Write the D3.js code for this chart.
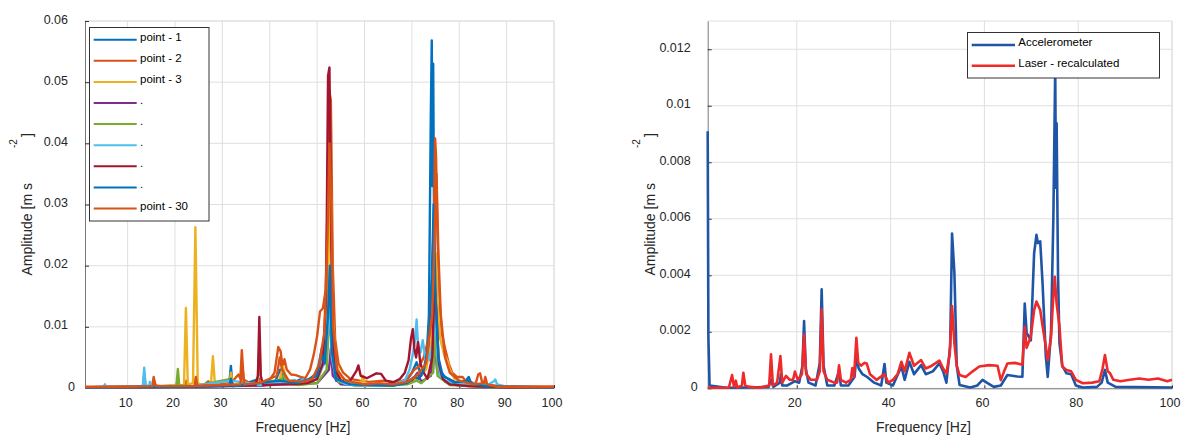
<!DOCTYPE html>
<html>
<head>
<meta charset="utf-8">
<script src="https://cdn.jsdelivr.net/npm/d3@7"></script>
<style>
  html, body { margin: 0; padding: 0; background: #fff; }
  svg { display: block; font-family: "Liberation Sans", Arial, sans-serif; }
  .grid line, .frame { stroke: #dfdfdf; stroke-width: 1; fill: none; }
  .axis { color: #262626; font-size: 12.5px; }
  .axis .domain { stroke: #777; }
  .axis .tick line { stroke: #333; }
  .label { fill: #262626; font-size: 14px; }
  .legend rect { fill: #fff; stroke: #333; stroke-width: 1; }
  .legend text { font-size: 11.5px; fill: #000; }
</style>
</head>
<body>
<svg id="chart" width="1183" height="440"></svg>
<script>
'use strict';

// ---- left panel: 30 measuring points (only the legend-listed ones drawn) ----
const pointLabels = ['point - 1', 'point - 2', 'point - 3', '.', '.', '.', '.', '.', 'point - 30'];

const point1 = [[1,0.0001],[5,0.0002],[13.2,0.0002],[13.5,0.0012],[13.8,0.0002],[20.3,0.0003],[20.6,0.0015],[20.9,0.0003],
  [24.2,0.0003],[24.4,0.001],[24.6,0.0003],[31.4,0.0004],[31.8,0.0036],[32.1,0.0006],[34,0.0005],[37.8,0.0015],[38.1,0.0004],
  [41,0.0008],[42.2,0.003],[43,0.0015],[45,0.0009],[46.5,0.0014],[48,0.0012],[50,0.0025],[51,0.0065],[51.6,0.0045],[52.4,0.009],
  [52.8,0.0105],[53.3,0.004],[54,0.0012],[56,0.0006],[60,0.0004],[63,0.0005],[66,0.0004],[68.5,0.0008],[70,0.0025],[71,0.0042],
  [72,0.002],[73,0.0035],[73.6,0.012],[74.0,0.045],[74.2,0.0568],[74.35,0.033],[74.5,0.053],[74.7,0.025],[75.1,0.008],[75.8,0.003],
  [77,0.0018],[79,0.001],[81,0.0008],[82,0.0018],[82.6,0.0006],[85,0.0004],[88,0.0003],[90,0.0001],[100,0.0001]];

const point2 = [[1,0.0001],[14,0.0002],[15.2,0.0004],[15.5,0.0018],[15.8,0.0004],[18,0.0002],[22.2,0.0003],[22.4,0.0012],[22.6,0.0003],
  [24.1,0.0003],[24.4,0.0015],[24.7,0.0003],[26.3,0.0006],[27,0.0011],[27.5,0.0005],[31.8,0.0008],[33.4,0.0022],[33.8,0.0015],
  [34.1,0.0062],[34.5,0.0014],[36,0.0007],[37.8,0.0012],[39.5,0.0008],[41,0.0025],[41.8,0.0067],[42.3,0.006],[42.7,0.0035],
  [43.1,0.0047],[43.6,0.003],[44.5,0.0022],[45.5,0.0021],[46.5,0.0018],[47.5,0.0016],[48.5,0.003],[49.3,0.0055],[50,0.0085],
  [50.6,0.0125],[51.2,0.013],[51.8,0.016],[52.2,0.03],[52.5,0.049],[52.9,0.047],[53.3,0.02],[53.8,0.008],[54.5,0.004],[55.5,0.0025],
  [57,0.0015],[59,0.0012],[61,0.001],[64,0.0012],[67,0.0009],[69,0.0015],[70.5,0.003],[71.5,0.0035],[72.5,0.005],[73.5,0.008],
  [74.3,0.018],[74.7,0.03],[74.9,0.0408],[75.1,0.038],[75.4,0.025],[75.8,0.015],[76.3,0.009],[77,0.0065],[77.8,0.004],[78.5,0.0025],
  [79.5,0.0018],[80.7,0.0018],[81.5,0.001],[83.5,0.0008],[84,0.0022],[84.4,0.0024],[84.8,0.001],[86,0.0005],[90,0.0002],[100,0.0002]];

const point3 = [[1,0.0001],[13.2,0.0002],[13.5,0.0015],[13.8,0.0002],[20.6,0.0004],[21.9,0.0005],[22.3,0.0131],[22.7,0.0006],
  [23.8,0.0008],[24.3,0.0263],[24.8,0.0008],[26,0.0004],[27.6,0.0008],[28,0.0052],[28.4,0.0008],[30,0.0004],[31.5,0.0006],
  [31.8,0.0025],[32.2,0.0005],[33.5,0.0008],[34.3,0.0015],[35,0.0005],[37.4,0.0008],[37.8,0.0067],[38.2,0.0008],[40,0.0005],
  [42,0.0012],[42.8,0.0035],[43.4,0.0015],[45,0.0008],[47,0.0006],[49,0.0009],[50.5,0.002],[51.8,0.006],[52.4,0.02],[52.7,0.035],
  [53.0,0.03],[53.3,0.012],[54,0.004],[55,0.0018],[57,0.0008],[59.3,0.0009],[59.7,0.002],[60.1,0.0007],[63,0.0005],[66,0.0006],
  [69,0.0008],[71,0.0015],[73,0.003],[74.2,0.008],[74.7,0.02],[75.1,0.022],[75.5,0.013],[76,0.008],[76.8,0.0055],[77.5,0.0045],
  [78,0.003],[79,0.0015],[81,0.0006],[84,0.0005],[86,0.0004],[90,0.0001],[100,0.0001]];

const point4 = [[1,0.0001],[20,0.0002],[31.8,0.0003],[38,0.0004],[43,0.0006],[50,0.0008],[52.5,0.003],[52.9,0.0065],[53.3,0.002],
  [55,0.0006],[60,0.0004],[65,0.0005],[70,0.0012],[71.2,0.0025],[72,0.001],[74,0.002],[74.8,0.008],[75.3,0.003],[77,0.001],
  [80,0.0004],[90,0.0001],[100,0.0001]];

const point5 = [[1,0.0001],[13.2,0.0002],[13.5,0.0022],[13.8,0.0002],[20.3,0.0004],[20.6,0.0031],[20.9,0.0004],[24,0.0003],
  [31.8,0.0015],[32.2,0.0003],[37.8,0.0008],[42.5,0.0014],[43,0.0022],[43.5,0.0008],[46,0.0005],[50,0.0008],[52,0.003],
  [52.6,0.012],[53,0.0155],[53.4,0.004],[54.5,0.001],[58,0.0004],[65,0.0004],[69,0.0006],[71,0.0012],[72,0.0008],[74.5,0.0025],
  [75,0.009],[75.4,0.002],[78,0.0005],[85,0.0002],[100,0.0001]];

const point6 = [[1,0.0001],[4.9,0.0001],[5.2,0.0006],[5.5,0.0001],[13.2,0.0003],[13.5,0.0033],[13.8,0.0004],[14.5,0.0003],
  [14.7,0.001],[15,0.0002],[20,0.0003],[24,0.0003],[31.8,0.0012],[38,0.0005],[42,0.0009],[44,0.0011],[45.3,0.0013],[46,0.0009],
  [47,0.0014],[48,0.0008],[50,0.0015],[51.5,0.004],[52.3,0.01],[52.7,0.0135],[53.1,0.005],[54,0.0015],[56,0.0006],[60,0.0004],
  [63,0.0004],[66,0.0006],[68.5,0.0012],[69.5,0.003],[70.2,0.0055],[70.7,0.008],[71,0.0112],[71.3,0.007],[71.8,0.0058],
  [72.3,0.0078],[72.8,0.005],[73.3,0.006],[73.8,0.0045],[74.5,0.008],[75,0.012],[75.4,0.005],[76,0.002],[77,0.0012],[79,0.0007],
  [82,0.0008],[86,0.0005],[87.3,0.0011],[87.6,0.0014],[88,0.0006],[90,0.0002],[100,0.0001]];

const point7 = [[1,0.0001],[20,0.0002],[30,0.0003],[37,0.0005],[37.5,0.002],[37.8,0.0116],[38.1,0.002],[38.6,0.0005],[42,0.0006],
  [45,0.0006],[48,0.0008],[50,0.0015],[51.2,0.004],[51.9,0.015],[52.3,0.051],[52.6,0.0524],[52.9,0.03],[53.2,0.009],[53.8,0.003],
  [55,0.0012],[57,0.0012],[58.3,0.0028],[58.7,0.0037],[59.2,0.002],[60.5,0.0016],[61.5,0.002],[62.5,0.0024],[63.5,0.0023],
  [64.5,0.0012],[66,0.0009],[67.5,0.0015],[68.5,0.0025],[69.3,0.0045],[69.8,0.008],[70.2,0.0096],[70.5,0.0065],[70.9,0.005],
  [71.3,0.0075],[71.8,0.004],[72.5,0.0025],[73.3,0.0015],[74.3,0.005],[74.8,0.017],[75.2,0.012],[75.7,0.004],[76.5,0.0015],
  [78,0.0006],[82,0.0003],[90,0.0001],[100,0.0001]];

const point8 = [[1,0.0001],[20,0.0002],[31.5,0.0004],[31.8,0.0015],[32.2,0.0003],[42,0.0012],[46,0.0008],[50,0.002],[51,0.0055],
  [51.6,0.004],[52.3,0.012],[52.7,0.02],[53.1,0.006],[54,0.0015],[57,0.0006],[62,0.0005],[66,0.0004],[69,0.0008],[70.5,0.0018],
  [71.5,0.0015],[72.5,0.003],[73.5,0.007],[74.2,0.018],[74.6,0.03],[75,0.015],[75.6,0.005],[76.5,0.002],[79,0.0009],[82,0.0012],
  [83,0.0006],[86,0.0003],[100,0.0001]];

const point30 = [[1,0.0002],[10,0.0002],[15.3,0.0003],[15.6,0.0012],[16,0.0003],[24.2,0.0003],[24.4,0.0018],[24.7,0.0003],
  [26,0.0004],[33.8,0.0006],[34.2,0.0035],[34.6,0.0006],[37.8,0.0008],[41.5,0.002],[42.1,0.005],[42.6,0.003],[44,0.0012],
  [47,0.001],[49,0.0015],[50.5,0.004],[51.5,0.009],[52.2,0.025],[52.6,0.04],[53,0.03],[53.4,0.01],[54.2,0.003],[56,0.0012],
  [60,0.0006],[63,0.0008],[66,0.0006],[69,0.001],[71,0.002],[73,0.004],[74.3,0.012],[74.8,0.025],[75.2,0.035],[75.6,0.022],
  [76.1,0.012],[77,0.005],[78,0.0025],[80,0.0012],[83,0.0006],[85.2,0.0008],[85.5,0.0018],[85.9,0.0006],[88,0.0002],[100,0.0002]];

const leftXTicks = [10, 20, 30, 40, 50, 60, 70, 80, 90, 100];
const leftYTicks = [0, 0.01, 0.02, 0.03, 0.04, 0.05, 0.06];

// ---- right panel: accelerometer vs laser ----
const sensorLabels = ['Accelerometer', 'Laser - recalculated'];

const accelerometer = [[1,0.0091],[1.15,0.0018],[1.4,0.0001],[5,0.00002],[10,0.00003],[14,0.00005],[14.5,0.0003],[15,0.00005],
  [16.4,0.0002],[16.6,0.0005],[16.9,0.0001],[18,0.0001],[19.6,0.00025],[20.5,0.0002],[21.2,0.0008],[21.55,0.00238],[21.9,0.0007],
  [22.5,0.0002],[24,0.0001],[24.9,0.0009],[25.3,0.0035],[25.7,0.0008],[26.5,0.0001],[28,0.0001],[29,0.0006],[29.4,0.0001],
  [31,0.0001],[32.3,0.0004],[32.7,0.0011],[33.2,0.0007],[34,0.0005],[35,0.0004],[36.5,0.0002],[38,0.0001],[38.7,0.00086],
  [39.1,0.0002],[40.5,0.0001],[42.3,0.00077],[43,0.0003],[44,0.00094],[45,0.0005],[46.5,0.00082],[47.5,0.0005],[49,0.0006],
  [50.4,0.00088],[51.2,0.0006],[51.9,0.0002],[52.7,0.0015],[53.1,0.00548],[53.6,0.0041],[54.1,0.0008],[54.7,0.00012],[57,0.00003],
  [58.5,0.0001],[59.6,0.0003],[60.5,0.0002],[62,0.00005],[63.5,0.0001],[64.9,0.00047],[67,0.00042],[68.1,0.00041],[68.6,0.003],
  [69.0,0.00196],[69.9,0.0017],[70.6,0.00478],[71.1,0.00543],[71.4,0.00514],[71.9,0.0052],[72.4,0.00372],[73.1,0.00112],
  [73.5,0.0004],[74.2,0.00196],[74.7,0.006],[75.1,0.0113],[75.25,0.0071],[75.4,0.00938],[75.7,0.004],[76,0.0016],[76.6,0.0008],
  [77.5,0.00053],[78.5,0.0005],[79.5,0.0001],[81,0.00003],[84,0.00005],[85,0.0002],[85.7,0.00065],[86.3,0.0002],[88,0.00005],
  [100,0.00003]];

const laser = [[1,0.00002],[5.5,0.00002],[6.2,0.00047],[6.6,0.00005],[7,0.00027],[7.3,0.00003],[8.3,0.0001],[8.6,0.00055],
  [9,0.0001],[10,0.00005],[12,0.00002],[14.1,0.0001],[14.5,0.0012],[14.9,0.0001],[15.8,0.0002],[16.5,0.00114],[16.9,0.0002],
  [17.7,0.00044],[18.5,0.0003],[19.2,0.0003],[19.6,0.00059],[20.2,0.0003],[21.1,0.0005],[21.55,0.00189],[22,0.0005],[23,0.0003],
  [24.3,0.0003],[24.9,0.0006],[25.3,0.0028],[25.7,0.0006],[26.5,0.0003],[28,0.0002],[28.6,0.0002],[29,0.00081],[29.4,0.0003],
  [30.5,0.0002],[31.5,0.0003],[31.85,0.00072],[32.2,0.0004],[32.7,0.00179],[33.1,0.0009],[33.7,0.0008],[34.4,0.0009],
  [34.9,0.00088],[35.6,0.0005],[37,0.0003],[38.7,0.0005],[39.5,0.0002],[40.5,0.0003],[41.5,0.0005],[42.3,0.00094],[43,0.0006],
  [44,0.00126],[45,0.0008],[46.5,0.001],[47.5,0.0007],[48.8,0.0008],[50.4,0.00098],[51.2,0.0007],[51.9,0.00053],[52.6,0.0012],
  [53.1,0.00291],[53.6,0.0016],[54.1,0.0008],[54.7,0.00047],[56,0.0004],[57.5,0.0006],[58.9,0.00077],[61,0.00082],[62.8,0.0008],
  [63.5,0.00029],[64.2,0.0006],[64.9,0.00088],[66.5,0.0009],[68.1,0.00083],[68.6,0.00218],[69,0.00143],[69.9,0.00183],
  [70.6,0.00277],[71.1,0.00307],[71.9,0.00277],[72.4,0.0022],[73.1,0.00147],[73.5,0.00099],[74.2,0.0018],[74.6,0.003],
  [75.0,0.00395],[75.4,0.003],[76,0.0022],[76.6,0.00077],[77.5,0.00065],[78.5,0.0006],[79.5,0.0003],[81,0.00018],[83,0.0002],
  [84.5,0.00025],[85.2,0.0007],[85.7,0.00118],[86.3,0.0006],[86.8,0.00053],[87.5,0.0003],[89,0.00025],[91,0.0003],[93,0.00035],
  [95,0.0003],[97,0.00035],[99,0.00025],[100,0.0003]];

const rightXTicks = [20, 40, 60, 80, 100];
const rightYTicks = [0, 0.002, 0.004, 0.006, 0.008, 0.01, 0.012];

// matlab default colour order
const matlabColors = ['#0072BD', '#D95319', '#EDB120', '#7E2F8E', '#77AC30', '#4DBEEE', '#A2142F'];

const svg = d3.select('#chart');
svg.append('rect').attr('width', 1183).attr('height', 440).attr('fill', '#fff');

const drawPanel = (p) => {
    const g = svg.append('g');
    const x = d3.scaleLinear().domain([1, 100]).range([p.left, p.right]);
    const y = d3.scaleLinear().domain(p.yDomain).range([p.bottom, p.top]);

    // grid
    const grid = g.append('g').attr('class', 'grid');
    grid.selectAll('line.v').data(p.xTicks).join('line').attr('class', 'v')
        .attr('x1', d => x(d)).attr('x2', d => x(d))
        .attr('y1', p.top).attr('y2', p.bottom);
    grid.selectAll('line.h').data(p.yTicks).join('line').attr('class', 'h')
        .attr('x1', p.left).attr('x2', p.right)
        .attr('y1', d => y(d)).attr('y2', d => y(d));
    g.append('path').attr('class', 'frame')
        .attr('d', `M${p.left},${p.top}H${p.right}V${p.bottom}`);

    // axes
    const xAxis = d3.axisBottom(x).tickValues(p.xTicks).tickSize(-3).tickSizeOuter(0)
        .tickPadding(10).tickFormat(d3.format('~g'));
    g.append('g').attr('class', 'axis')
        .attr('transform', `translate(0,${p.bottom})`)
        .call(xAxis)
        .selectAll('.tick text').attr('x', -2.5);

    const yAxis = d3.axisLeft(y).tickValues(p.yTicks).tickSize(-4).tickSizeOuter(0)
        .tickPadding(17).tickFormat(d3.format('~g'));
    g.append('g').attr('class', 'axis')
        .attr('transform', `translate(${p.left},0)`)
        .call(yAxis)
        .selectAll('.tick text')
        .attr('y', -2)
        .attr('x', d => d === 0 ? -10 : -17);

    // axis labels
    g.append('text').attr('class', 'label')
        .attr('x', (p.left + p.right) / 2 - 16.5).attr('y', 432)
        .attr('text-anchor', 'middle')
        .text('Frequency [Hz]');
    g.append('text').attr('class', 'label')
        .attr('transform', `translate(${p.left - 53},183) rotate(-90)`)
        .attr('text-anchor', 'end')
        .text('Amplitude [m s');
    g.append('text').attr('class', 'label').style('font-size', '10px')
        .attr('transform', `translate(${p.left - 68},148) rotate(-90)`)
        .text('-2');
    g.append('text').attr('class', 'label')
        .attr('transform', `translate(${p.left - 53},137) rotate(-90)`)
        .text(']');

    // data
    const clipId = 'clip-' + p.id;
    svg.append('clipPath').attr('id', clipId).append('rect')
        .attr('x', p.left - 2).attr('y', p.top)
        .attr('width', p.right - p.left + 4).attr('height', p.bottom - p.top + 3);

    const line = d3.line()
        .x(d => x(d[0]))
        .y(d => y(d[1]))
        .curve(d3.curveLinear);

    g.append('g').attr('clip-path', `url(#${clipId})`)
        .selectAll('path').data(p.series).join('path')
        .attr('d', d => line(d.values))
        .attr('fill', 'none')
        .attr('stroke', d => d.color)
        .attr('stroke-width', p.lineWidth)
        .attr('stroke-linejoin', 'round');

    // legend
    const lg = p.legend;
    const leg = g.append('g').attr('class', 'legend');
    leg.append('rect').attr('x', lg.x).attr('y', lg.y).attr('width', lg.w).attr('height', lg.h);
    const rows = leg.selectAll('g.row').data(p.series).join('g').attr('class', 'row')
        .attr('transform', (d, i) => `translate(0,${lg.firstRow + i * lg.step})`);
    rows.append('line')
        .attr('x1', lg.lineX1).attr('x2', lg.lineX2)
        .attr('stroke', d => d.color).attr('stroke-width', lg.lineWidth);
    rows.append('text')
        .attr('x', lg.textX).attr('y', lg.textDy)
        .text(d => d.label);
};

const leftSeries = [point1, point2, point3, point4, point5, point6, point7, point8, point30]
    .map((values, i) => ({
        values,
        label: pointLabels[i],
        color: matlabColors[(i === 8 ? 29 : i) % matlabColors.length]
    }));

drawPanel({
    id: 'left',
    left: 85, right: 554, top: 21, bottom: 388,
    yDomain: [0, 0.06],
    xTicks: leftXTicks, yTicks: leftYTicks,
    series: leftSeries,
    lineWidth: 2.4,
    legend: { x: 89.5, y: 27.5, w: 119.5, h: 193.5, firstRow: 39.7, step: 21.1, lineWidth: 2,
              lineX1: 93.7, lineX2: 136.7, textX: 140, textDy: 1 }
});

drawPanel({
    id: 'right',
    left: 707.7, right: 1172, top: 21, bottom: 388.3,
    yDomain: [0, 0.013],
    xTicks: rightXTicks, yTicks: rightYTicks,
    series: [
        { values: accelerometer, label: sensorLabels[0], color: '#1f55a6' },
        { values: laser, label: sensorLabels[1], color: '#ee2a2a' }
    ],
    lineWidth: 2.6,
    legend: { x: 967.5, y: 32.5, w: 192, h: 45.5, firstRow: 45, step: 20.7, lineWidth: 2.4,
              lineX1: 971.7, lineX2: 1015, textX: 1018.3, textDy: 1.3 }
});
</script>
</body>
</html>
